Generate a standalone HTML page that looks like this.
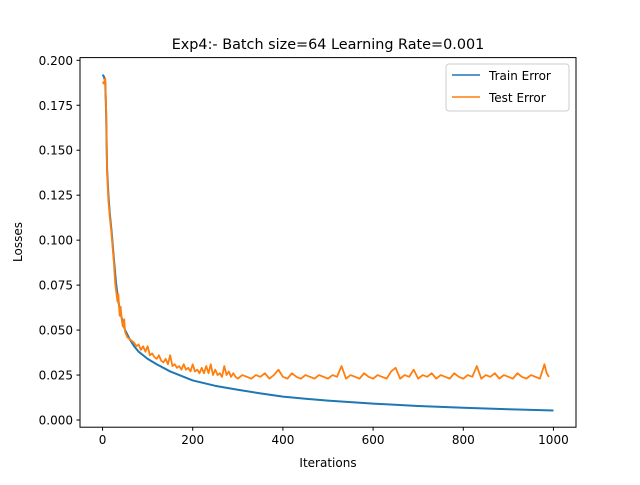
<!DOCTYPE html>
<html><head><meta charset="utf-8"><style>
body{margin:0;background:#fff}
svg{font-family:"DejaVu Sans","Liberation Sans",sans-serif}
</style></head><body>
<svg id="chart" width="640" height="480">
<rect width="640" height="480" fill="#fff"/>
<text x="328" y="49" text-anchor="middle" font-size="14.4">Exp4:- Batch size=64 Learning Rate=0.001</text>
<g id="plot"></g>
<rect x="80" y="57.6" width="496" height="369.6" fill="none" stroke="#000" stroke-width="1"/>
<text x="328" y="467" text-anchor="middle" font-size="12">Iterations</text>
<text transform="translate(22,242) rotate(-90)" text-anchor="middle" font-size="12">Losses</text>
<g>
<rect x="446" y="64" width="123" height="47" rx="3" fill="#fff" stroke="#ccc"/>
<line x1="452" y1="75" x2="480" y2="75" stroke="#1f77b4" stroke-width="1.5"/>
<text x="489" y="80" font-size="12">Train Error</text>
<line x1="452" y1="97" x2="480" y2="97" stroke="#ff7f0e" stroke-width="1.5"/>
<text x="489" y="102" font-size="12">Test Error</text>
</g>
</svg>
<script>
const trainIter=[0,3,6,8,10,13,16,20,25,30,35,40,50,60,70,80,90,100,120,150,175,200,250,300,350,400,450,500,600,700,800,900,1000];
const trainLoss=[0.192,0.191,0.188,0.170,0.140,0.125,0.115,0.105,0.090,0.076,0.066,0.059,0.050,0.045,0.041,0.038,0.036,0.034,0.031,0.027,0.0245,0.022,0.019,0.0168,0.0148,0.013,0.0118,0.0108,0.0091,0.0078,0.0068,0.006,0.0053];
const testIter=[0,3,6,8,10,13,16,20,25,28,30,33,35,38,40,43,45,48,50,55,60,65,70,75,80,85,90,95,100,105,110,115,120,125,130,135,140,145,150,155,160,165,170,175,180,185,190,195,200,205,210,215,220,225,230,235,240,245,250,255,260,265,270,275,280,285,290,295,
300,310,320,330,340,350,360,370,380,390,400,410,420,430,440,450,460,470,480,490,500,510,520,530,540,550,560,570,580,590,600,610,620,630,640,650,660,670,680,690,700,710,720,730,740,750,760,770,780,790,800,810,820,830,840,850,860,870,880,890,900,910,920,930,940,950,960,970,980,985,990,1000];
const testLoss=[0.188,0.187,0.190,0.172,0.138,0.122,0.113,0.103,0.088,0.076,0.072,0.066,0.070,0.058,0.063,0.055,0.052,0.056,0.049,0.046,0.045,0.044,0.043,0.041,0.042,0.039,0.041,0.038,0.041,0.036,0.037,0.035,0.034,0.036,0.033,0.032,0.034,0.031,0.036,0.030,0.031,0.029,0.030,0.028,0.031,0.028,0.029,0.027,0.031,0.027,0.028,0.026,0.029,0.026,0.030,0.026,0.031,0.025,0.028,0.025,0.026,0.024,0.030,0.025,0.027,0.024,0.026,0.024,
0.023,0.025,0.024,0.023,0.025,0.024,0.026,0.023,0.025,0.028,0.024,0.023,0.026,0.024,0.023,0.025,0.024,0.023,0.025,0.024,0.023,0.025,0.024,0.030,0.023,0.025,0.024,0.023,0.026,0.024,0.023,0.025,0.024,0.023,0.027,0.029,0.023,0.025,0.024,0.028,0.023,0.025,0.024,0.026,0.023,0.025,0.024,0.023,0.026,0.024,0.023,0.025,0.024,0.030,0.023,0.025,0.024,0.026,0.023,0.025,0.024,0.023,0.026,0.024,0.023,0.025,0.024,0.023,0.031,0.026,0.024];
const xTicks=[0,200,400,600,800,1000];
const yTicks=[0.000,0.025,0.050,0.075,0.100,0.125,0.150,0.175,0.200];
const NS="http://www.w3.org/2000/svg";
const X0=80,X1=576,Y0=427.2,Y1=57.6;
const xmin=-50,xmax=1050,ymin=-0.004,ymax=0.2015;
const xs=v=>X0+(v-xmin)/(xmax-xmin)*(X1-X0);
const ys=v=>Y0-(v-ymin)/(ymax-ymin)*(Y0-Y1);
const g=document.getElementById('plot');
function mk(t,a){const e=document.createElementNS(NS,t);for(const k in a)e.setAttribute(k,a[k]);g.appendChild(e);return e;}
xTicks.forEach(v=>{
  const l=mk('line',{x1:xs(v),x2:xs(v),y1:Y0,y2:Y0+3.5,stroke:'#000'});
  
  
  const t=mk('text',{x:xs(v),y:Y0+17,'text-anchor':'middle','font-size':'12'});t.textContent=v;
  
  
});
yTicks.forEach(v=>{
  const l=mk('line',{x1:X0-3.5,x2:X0,y1:ys(v),y2:ys(v),stroke:'#000'});
  
  
  const t=mk('text',{x:X0-7,y:ys(v)+4.5,'text-anchor':'end','font-size':'12'});t.textContent=v.toFixed(3);
  
  
});
function line(ix,vals,c,name,w){
  const p=mk('polyline',{points:ix.map((x,i)=>xs(x)+','+ys(vals[i])).join(' '),fill:'none',stroke:c,'stroke-width':w,'stroke-linejoin':'round'});
  
  
}
line(trainIter,trainLoss,'#1f77b4','train-error-line','2');
line(testIter,testLoss,'#ff7f0e','test-error-line','1.8');
</script>
</body></html>
